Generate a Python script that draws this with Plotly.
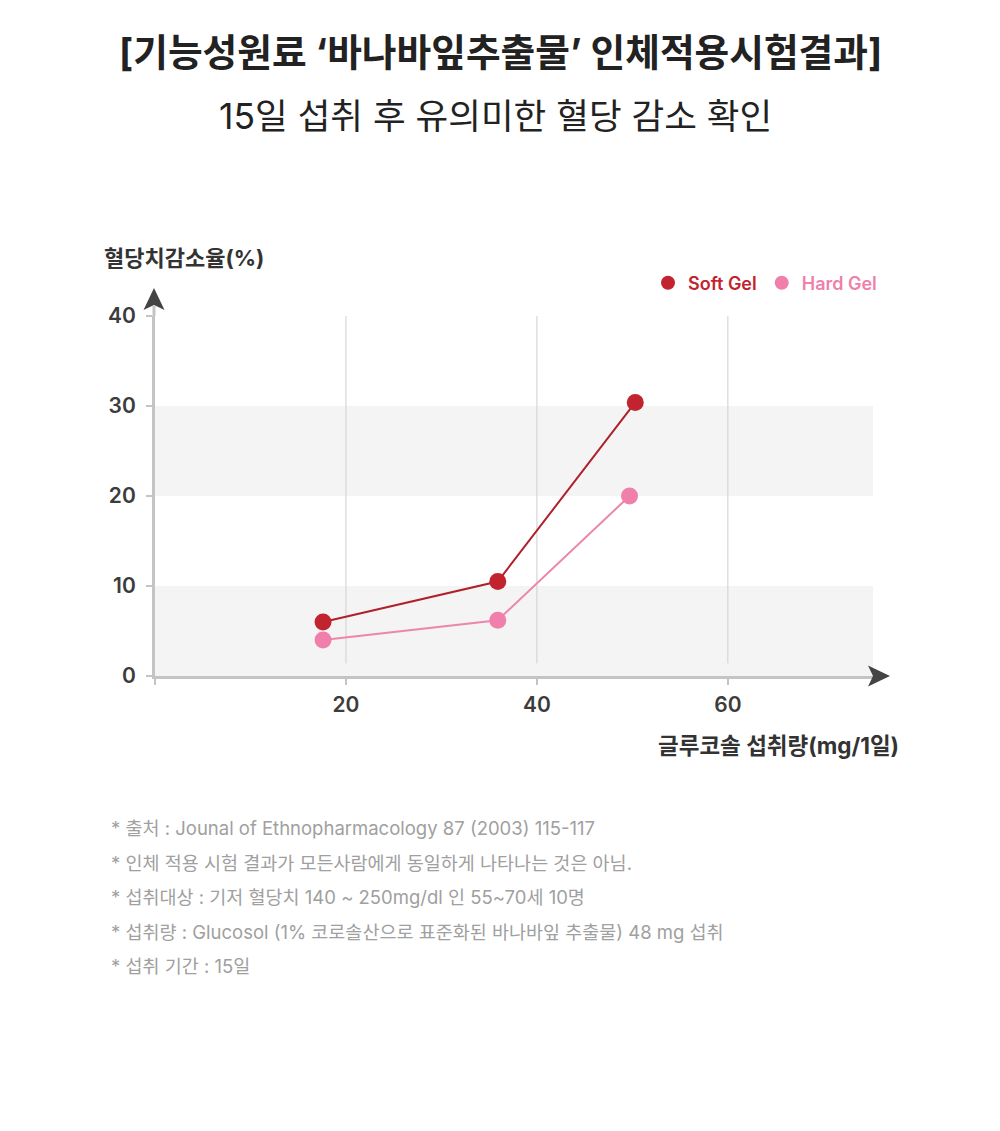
import plotly.graph_objects as go

# ---- data ----
doses_soft = [17.6, 35.9, 50.3]
reduction_soft = [6.0, 10.5, 30.4]
doses_hard = [17.6, 35.9, 49.7]
reduction_hard = [4.0, 6.2, 20.0]
series_names = ["Soft Gel", "Hard Gel"]
x_ticks = [0, 20, 40, 60]
x_ticklabels = ["", "20", "40", "60"]
y_ticks = [0, 10, 20, 30, 40]
y_ticklabels = ["0", "10", "20", "30", "40"]
title_text = "[기능성원료 ‘바나바잎추출물’ 인체적용시험결과]"
subtitle_text = "15일 섭취 후 유의미한 혈당 감소 확인"
y_title = "혈당치감소율(%)"
x_title = "글루코솔 섭취량(mg/1일)"
footnotes = [
    "* 출처 : Jounal of Ethnopharmacology 87 (2003) 115-117",
    "* 인체 적용 시험 결과가 모든사람에게 동일하게 나타나는 것은 아님.",
    "* 섭취대상 : 기저 혈당치 140 ~ 250mg/dl 인 55~70세 10명",
    "* 섭취량 : Glucosol (1% 코로솔산으로 표준화된 바나바잎 추출물) 48 mg 섭취",
    "* 섭취 기간 : 15일",
]

SOFT = "#c2242f"
SOFT_LINE = "#b0202b"
HARD = "#f07fab"
HARD_LINE = "#ec86ad"
AXIS = "#c4c4c4"
FONT = "Inter, Noto Sans CJK KR, sans-serif"

W, H = 1000, 1131
L, R, T, B = 155, 873, 316, 676  # plot area in px
PW, PH = R - L, B - T


def px(xp):
    return (xp - L) / PW


def py(yp):
    return (B - yp) / PH


fig = go.Figure()

fig.add_trace(go.Scatter(x=doses_soft, y=reduction_soft, mode="lines+markers",
                         line=dict(color=SOFT_LINE, width=2),
                         marker=dict(color=SOFT, size=17), showlegend=False,
                         cliponaxis=False))
fig.add_trace(go.Scatter(x=doses_hard, y=reduction_hard, mode="lines+markers",
                         line=dict(color=HARD_LINE, width=2),
                         marker=dict(color=HARD, size=17), showlegend=False,
                         cliponaxis=False))
# legend-only entries
for nm, col in zip(series_names, [SOFT, HARD]):
    fig.add_trace(go.Scatter(x=[None], y=[None], mode="markers",
                             marker=dict(color=col, size=14),
                             name=f"<span style='color:{col}'>{nm}</span>"))

shapes = []
# bands
for y0, y1 in [(0, 10), (20, 30)]:
    shapes.append(dict(type="rect", xref="x", yref="y", x0=0, x1=75.2, y0=y0, y1=y1,
                       fillcolor="#f4f4f4", line=dict(width=0), layer="below"))
# vertical grid lines (stop short of the x axis)
for xv in x_ticks[1:]:
    shapes.append(dict(type="line", xref="x", yref="y", x0=xv, x1=xv, y0=1.4, y1=40,
                       line=dict(color="#cfcfcf", width=1), layer="below"))
# y axis extension above plot
shapes.append(dict(type="line", xref="paper", yref="paper", x0=px(154), x1=px(154),
                   y0=1, y1=py(306), line=dict(color=AXIS, width=3)))
# arrow heads
shapes.append(dict(type="path", xref="paper", yref="paper",
                   path=f"M {px(154)},{py(288)} L {px(164.5)},{py(310)} L {px(154)},{py(305)} L {px(143.5)},{py(310)} Z",
                   fillcolor="#444444", line=dict(width=0)))
shapes.append(dict(type="path", xref="paper", yref="paper",
                   path=f"M {px(890)},{py(676)} L {px(868)},{py(665.5)} L {px(873)},{py(676)} L {px(868)},{py(686.5)} Z",
                   fillcolor="#444444", line=dict(width=0)))

annotations = [
    dict(text=f"<b>{title_text}</b>", x=px(500), y=py(52), xref="paper", yref="paper",
         showarrow=False, font=dict(size=37.7, color="#222222", family=FONT),
         xanchor="center", yanchor="middle"),
    dict(text=subtitle_text, x=px(495), y=py(116), xref="paper", yref="paper",
         showarrow=False, font=dict(size=35.5, color="#222222", family=FONT),
         xanchor="center", yanchor="middle"),
    dict(text=f"<b>{y_title}</b>", x=px(102), y=py(258), xref="paper", yref="paper",
         showarrow=False, font=dict(size=22, color="#333333", family=FONT),
         xanchor="left", yanchor="middle"),
    dict(text=f"<b>{x_title}</b>", x=px(901), y=py(745), xref="paper", yref="paper",
         showarrow=False, font=dict(size=22.5, color="#333333", family=FONT),
         xanchor="right", yanchor="middle"),
]
for i, t in enumerate(footnotes):
    annotations.append(dict(text=t, x=px(109), y=py(828 + i * 34.6), xref="paper", yref="paper",
                            showarrow=False, font=dict(size=18.5, color="#a0a0a0", family=FONT),
                            xanchor="left", yanchor="middle"))

fig.update_layout(
    width=W, height=H,
    margin=dict(l=L, r=W - R, t=T, b=H - B, autoexpand=False),
    paper_bgcolor="white", plot_bgcolor="white",
    font=dict(family=FONT),
    shapes=shapes, annotations=annotations,
    legend=dict(orientation="h", x=px(882), y=py(283), xanchor="right", yanchor="middle",
                font=dict(size=18, family=FONT, weight=600), itemwidth=30,
                bgcolor="rgba(0,0,0,0)", tracegroupgap=0),
    xaxis=dict(range=[0, 75.2], tickvals=x_ticks, ticktext=x_ticklabels, showgrid=False,
               showline=True, linecolor=AXIS, linewidth=3,
               zeroline=False, ticks="outside", ticklen=6, tickwidth=2, tickcolor=AXIS,
               ticklabelstandoff=2,
               tickfont=dict(size=21, color="#3c3c3c", family=FONT, weight=600),
               fixedrange=True),
    yaxis=dict(range=[0, 40], tickvals=y_ticks, ticktext=y_ticklabels, showgrid=False,
               showline=True, linecolor=AXIS, linewidth=3, zeroline=False,
               ticks="outside", ticklen=6, tickwidth=2, tickcolor=AXIS,
               ticklabelstandoff=6,
               tickfont=dict(size=21, color="#3c3c3c", family=FONT, weight=600),
               fixedrange=True),
)

fig.write_html("out.html")
